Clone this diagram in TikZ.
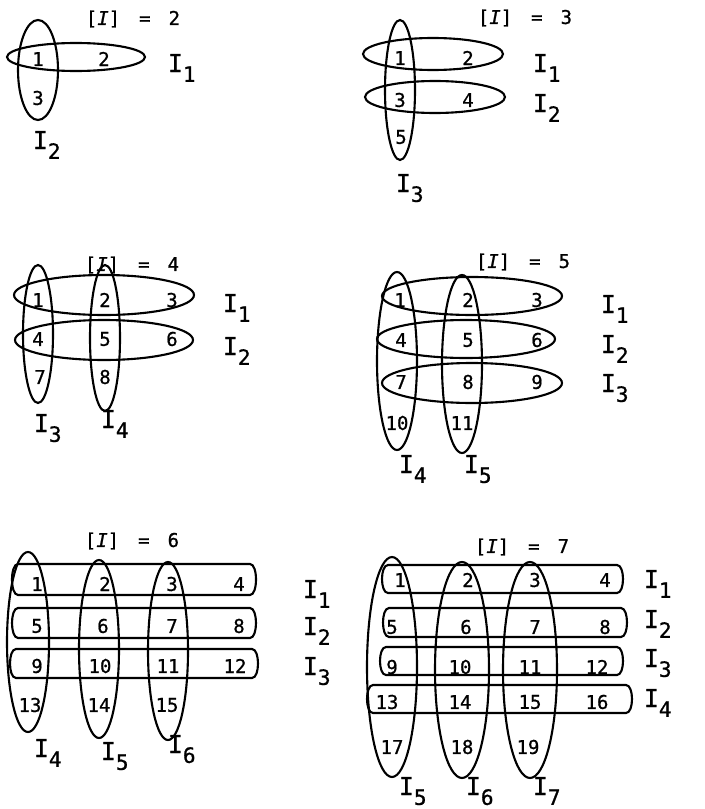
\documentclass[tikz,border=0pt]{standalone}
\usepackage{fontspec}
\setmainfont{DejaVu Sans Mono}[FakeBold=0.9]
\usepackage{tikz}
\newcommand{\Ilab}[1]{I\raisebox{-7pt}{\fontsize{15}{17}\selectfont #1}}
\newcommand{\settitle}[1]{[\textit{I}]\hspace{1em}=\hspace{0.95em}#1}
\newcommand{\hband}[4]{\draw (#1,#3) -- (#2,#3) .. controls (#2+8,#3) and (#2+8,#4) .. (#2,#4) -- (#1,#4) .. controls (#1-8,#4) and (#1-8,#3) .. (#1,#3) -- cycle;}

\begin{document}
\begin{tikzpicture}[x=0.025cm, y=-0.025cm, line width=1.5pt, font=\fontsize{13.5}{15}\selectfont]
		\tikzset{num/.style={inner sep=0pt}, ttl/.style={inner sep=0pt}, lab/.style={anchor=base west, inner sep=0pt, font=\fontsize{17.5}{20}\selectfont}}
		\useasboundingbox (0,0) rectangle (704,809);
		% [I] = 2
		\node[ttl] (t2) at (133,19) {\settitle{2}};
		\draw (76,57) ellipse [x radius=69, y radius=14];
		\draw (38,70) ellipse [x radius=20, y radius=50];
		\node[num] (a1) at (38,59) {1};
		\node[num] (a2) at (104,59) {2};
		\node[num] (a3) at (38,98) {3};
		\node[lab] (aI1) at (167,72) {\Ilab{1}};
		\node[lab] (aI2) at (32,149) {\Ilab{2}};
		% [I] = 3
		\node[ttl] (t3) at (525,18) {\settitle{3}};
		\draw (433,54) ellipse [x radius=70, y radius=16];
		\draw (435,97) ellipse [x radius=70, y radius=16];
		\draw (400,90) ellipse [x radius=15, y radius=70];
		\node[num] (b1) at (400,58) {1};
		\node[num] (b2) at (468,58) {2};
		\node[num] (b3) at (400,100) {3};
		\node[num] (b4) at (468,100) {4};
		\node[num] (b5) at (401,137) {5};
		\node[lab] (bI1) at (532,72) {\Ilab{1}};
		\node[lab] (bI2) at (532,112) {\Ilab{2}};
		\node[lab] (bI3) at (395,192) {\Ilab{3}};
		% [I] = 4
		\node[ttl] (t4) at (132,265) {\settitle{4}};
		\draw (104,295) ellipse [x radius=90, y radius=20];
		\draw (104,340) ellipse [x radius=89, y radius=20];
		\draw (38,334) ellipse [x radius=15, y radius=69];
		\draw (105,338) ellipse [x radius=15, y radius=73];
		\foreach \n/\x/\y in {1/38/300, 2/105/300, 3/172/300, 4/38/339, 5/105/339, 6/172/339, 7/40/377, 8/105/377}
			\node[num] (c\n) at (\x,\y) {\n};
		\node[lab] (cI1) at (222,312) {\Ilab{1}};
		\node[lab] (cI2) at (222,355) {\Ilab{2}};
		\node[lab] (cI3) at (33,432) {\Ilab{3}};
		\node[lab] (cI4) at (100,428) {\Ilab{4}};
		% [I] = 5
		\node[ttl] (t5) at (523,262) {\settitle{5}};
		\draw (472,296) ellipse [x radius=90, y radius=19];
		\draw (466,339) ellipse [x radius=89, y radius=19];
		\draw (472,383) ellipse [x radius=90, y radius=20];
		\draw (397,361) ellipse [x radius=20, y radius=89];
		\draw (462,364) ellipse [x radius=20, y radius=89];
		\foreach \n/\x/\y in {1/400/300, 2/468/300, 3/537/300, 4/401/340, 5/468/340, 6/537/340, 7/401/382, 8/468/382, 9/537/382, 10/397/423, 11/462/423}
			\node[num] (d\n) at (\x,\y) {\n};
		\node[lab] (dI1) at (600,313) {\Ilab{1}};
		\node[lab] (dI2) at (600,353) {\Ilab{2}};
		\node[lab] (dI3) at (600,392) {\Ilab{3}};
		\node[lab] (dI4) at (398,473) {\Ilab{4}};
		\node[lab] (dI5) at (463,473) {\Ilab{5}};
		% [I] = 6
		\node[ttl] (t6) at (132,541) {\settitle{6}};
		\hband{18}{250}{564}{595}
		\hband{18}{250}{608}{638}
		\hband{16}{252}{649}{678}
		\draw (28,642) ellipse [x radius=21, y radius=90];
		\draw (99,649) ellipse [x radius=20, y radius=89];
		\draw (168,651) ellipse [x radius=20, y radius=89];
		\foreach \n/\x/\y in {1/37/584, 2/105/584, 3/172/584, 4/239/584, 5/37/626, 6/103/626, 7/172/626, 8/239/626, 9/37/666, 10/100/666, 11/168/666, 12/235/666, 13/30/705, 14/99/705, 15/167/705}
			\node[num] (e\n) at (\x,\y) {\n};
		\node[lab] (eI1) at (302,598) {\Ilab{1}};
		\node[lab] (eI2) at (302,635) {\Ilab{2}};
		\node[lab] (eI3) at (302,675) {\Ilab{3}};
		\node[lab] (eI4) at (33,757) {\Ilab{4}};
		\node[lab] (eI5) at (100,760) {\Ilab{5}};
		\node[lab] (eI6) at (167,753) {\Ilab{6}};
		% [I] = 7
		\node[ttl] (t7) at (522,547) {\settitle{7}};
		\hband{388}{617}{565}{593}
		\hband{389}{621}{608}{637}
		\hband{386}{617}{647}{675}
		\hband{373}{626}{685}{713}
		\draw (392,667) ellipse [x radius=25, y radius=110];
		\draw (462,670) ellipse [x radius=27, y radius=108];
		\draw (530,670) ellipse [x radius=27, y radius=108];
		\foreach \n/\x/\y in {1/400/580, 2/468/580, 3/535/580, 4/605/580, 5/392/627, 6/466/627, 7/535/627, 8/605/627, 9/392/667, 10/460/667, 11/530/667, 12/597/667, 13/387/702, 14/460/702, 15/530/702, 16/597/702, 17/392/747, 18/462/747, 19/528/747}
			\node[num] (f\n) at (\x,\y) {\n};
		\node[lab] (fI1) at (643,588) {\Ilab{1}};
		\node[lab] (fI2) at (643,628) {\Ilab{2}};
		\node[lab] (fI3) at (643,667) {\Ilab{3}};
		\node[lab] (fI4) at (643,707) {\Ilab{4}};
		\node[lab] (fI5) at (398,795) {\Ilab{5}};
		\node[lab] (fI6) at (465,795) {\Ilab{6}};
		\node[lab] (fI7) at (532,795) {\Ilab{7}};
	\end{tikzpicture}
\end{document}
